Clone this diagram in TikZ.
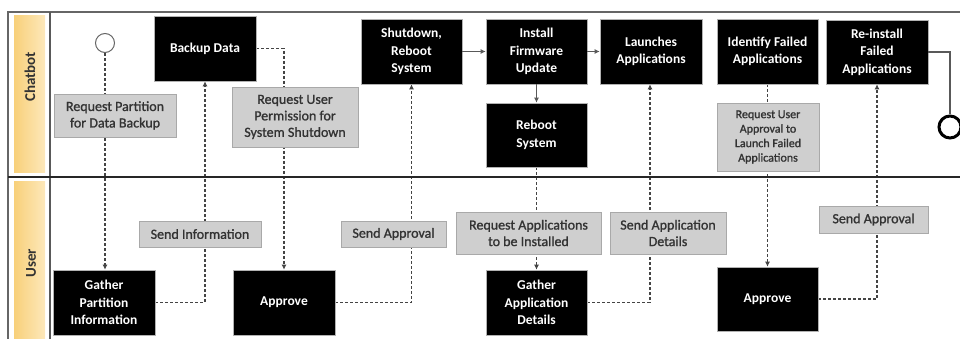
\documentclass[tikz,border=0pt]{standalone}
\usepackage{fontspec}
\setmainfont{Carlito}
\newfontfamily\semibfont[FakeBold=1.2]{Carlito}
\usetikzlibrary{arrows.meta,backgrounds}
\definecolor{gfill}{HTML}{CFCFCF}
\definecolor{gline}{HTML}{A9A9A9}
\definecolor{gtext}{HTML}{333333}
\definecolor{lanea}{HTML}{F8D07A}
\definecolor{laneb}{HTML}{FDE8BA}
\definecolor{conn}{HTML}{444444}
\begin{document}
\begin{tikzpicture}[x=1pt,y=-1pt,
  blk/.style={fill=black,draw=gray!60,line width=0.6pt,text=white,
    font=\fontsize{13.5}{17.5}\selectfont\bfseries,align=center,inner sep=0pt},
  lbl/.style={fill=gfill,draw=gline,line width=0.8pt,text=gtext,
    font=\semibfont\fontsize{14}{16.5}\selectfont,align=center,inner sep=0pt},
  lbls/.style={lbl,font=\semibfont\fontsize{12}{14.5}\selectfont},
  dl/.style={conn,line width=1.2pt,dash pattern=on 3pt off 2pt},
  sl/.style={gray!70!black,line width=1.2pt},
  arr/.style={-{Latex[length=5pt,width=5pt]}},
  lanestrip/.style={left color=lanea,right color=laneb,draw=none},
  lanetext/.style={rotate=90,text=gtext,font=\fontsize{15}{18}\selectfont\bfseries}
]
\useasboundingbox (0,0) rectangle (960,339);

% lane headers
\path[lanestrip] (14,16) rectangle (45,173);
\path[lanestrip] (14,182) rectangle (45,339);
\node[lanetext] (lchat) at (30,77) {Chatbot};
\node[lanetext] (luser) at (31,263) {User};
\draw[gray!80!black,line width=1.3pt] (8,339) -- (8,12) -- (960,12);
\draw[gray!70!black,line width=1.2pt] (50,12) -- (50,339);
\draw[black!85,line width=1.6pt] (8,177) -- (960,177);

% chatbot lane
\node[circle,draw=gray!80!black,line width=1pt,minimum size=19pt,inner sep=0pt,fill=white] (s) at (105,43) {};
\node[blk,minimum width=102pt,minimum height=65pt] (bk) at (205,48.5) {Backup Data};
\node[blk,minimum width=101pt,minimum height=65pt] (sd) at (411.5,51.5) {Shutdown,\\Reboot\\System};
\node[blk,minimum width=101pt,minimum height=65pt] (fw) at (536.5,51.5) {Install\\Firmware\\Update};
\node[blk,minimum width=101pt,minimum height=64pt] (rb) at (536.5,135) {Reboot\\System};
\node[blk,minimum width=102pt,minimum height=65pt] (la) at (651,51.5) {Launches\\Applications};
\node[blk,minimum width=101pt,minimum height=65pt] (id) at (767.5,51.5) {Identify Failed\\Applications};
\node[blk,minimum width=102pt,minimum height=64pt] (ri) at (877,52) {Re-install\\Failed\\Applications};
\node[circle,draw=black,line width=3pt,minimum size=22pt,inner sep=0pt,fill=white] (e) at (950,127) {};

\node[lbl,minimum width=122pt,minimum height=43pt] (rp) at (115,115.5) {Request Partition\\for Data Backup};
\node[lbl,minimum width=126pt,minimum height=60pt] (rup) at (295,117) {Request User\\Permission for\\System Shutdown};
\node[lbls,minimum width=102pt,minimum height=68pt] (rua) at (768,137) {Request User\\Approval to\\Launch Failed\\Applications};

% user lane
\node[blk,minimum width=102pt,minimum height=65pt] (gp) at (104,302.5) {Gather\\Partition\\Information};
\node[blk,minimum width=102pt,minimum height=65pt] (ap1) at (284,302.5) {Approve};
\node[blk,minimum width=101pt,minimum height=65pt] (ga) at (536.5,302.5) {Gather\\Application\\Details};
\node[blk,minimum width=101pt,minimum height=64pt] (ap2) at (767.5,299) {Approve};

\node[lbl,minimum width=122pt,minimum height=26pt] (si) at (200,234) {Send Information};
\node[lbl,minimum width=105pt,minimum height=26pt] (sa1) at (393.5,234) {Send Approval};
\node[lbl,minimum width=145pt,minimum height=42pt] (ra) at (528.5,233) {Request Applications\\to be Installed};
\node[lbl,minimum width=116pt,minimum height=42pt] (sad) at (668,233) {Send Application\\Details};
\node[lbl,minimum width=109pt,minimum height=27pt] (sa2) at (873.5,219.5) {Send Approval};

% connectors
\begin{pgfonlayer}{background}
\draw[dl,arr] (s.south) -- (s.south |- gp.north);
\draw[dl,arr] (gp.east) -| (bk.south);
\draw[dl,arr] (bk.east) -| (ap1.north);
\draw[dl,arr] (ap1.east) -| (sd.south);
\draw[dl,arr] (rb.south) -- (ga.north);
\draw[dl,arr] (ga.east) -| ([xshift=-1pt]la.south);
\draw[dl,arr] (id.south) -- (ap2.north);
\draw[dl,arr] (ap2.east) -| (ri.south);
\end{pgfonlayer}
\draw[sl,arr] (sd.east) -- (fw.west);
\draw[sl,arr] (fw.east) -- (la.west);
\draw[sl,arr] (fw.south) -- (rb.north);
\draw[sl] (ri.east) -| (e.north);
\end{tikzpicture}
\end{document}
